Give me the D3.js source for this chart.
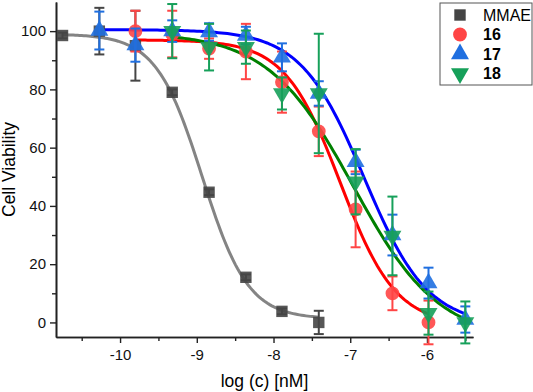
<!DOCTYPE html>
<html>
<head>
<meta charset="utf-8">
<script src="https://cdn.jsdelivr.net/npm/d3@7"></script>
<style>
  body { margin: 0; background: #fff; }
  svg { display: block; font-family: "Liberation Sans", Arial, sans-serif; }
</style>
</head>
<body>
<div id="chart"></div>
<script>
// log concentrations (3-fold dilutions)
const logC = [-10.75, -10.27, -9.8, -9.32, -8.84, -8.36, -7.89, -7.41, -6.93, -6.45, -5.98, -5.5];

const mmaeY = [98.5, 100, 95, 79, 44.7, 15.5, 3.8, 0];
const mmaeErr = [1, 8, 12, 1, 1, 1, 1, 4];

const c16Y = [100, 99, 94, 93, 82.5, 65.6, 38.8, 10, 0];
const c16Err = [7, 8, 3.5, 9.5, 10.5, 8.5, 13, 5.8, 7.5];

const c17Y = [100.2, 95.2, 100, 99.7, 98.5, 91, 78.6, 55.1, 30, 13.5, 1];
const c17Err = [6.5, 5.7, 3.7, 3, 3, 4.8, 4.2, 4.2, 7, 5.3, 4.5];

const c18Y = [100, 94.5, 94.5, 78.6, 78.6, 48.3, 29.7, 3.2, 0];
const c18Err = [9.3, 8, 5.7, 5.5, 20.5, 11.2, 13.5, 7.4, 7.2];

// fitted dose-response parameters: [top, bottom, logIC50, hill]
const fitMMAE = [99, 1.2, -8.93, 1.45];
const fit16 = [97, -1, -7.13, 1.2];
const fit17 = [100.5, -1, -6.82, 1.05];
const fit18 = [99.5, -6, -6.96, 0.78];

const xTicks = [-10, -9, -8, -7, -6];
const yTicks = [0, 20, 40, 60, 80, 100];

let w = 533,
    h = 392,
    margin = ({ top: 2, right: 60, bottom: 55, left: 56 });

const svg = d3.select("#chart")
  .append("svg")
  .attr("width", w)
  .attr("height", h);

let x = d3.scaleLinear()
  .domain([-10.835, -5.4])
  .range([margin.left, w - margin.right]);

let y = d3.scaleLinear()
  .domain([-5, 110])
  .range([h - margin.bottom, margin.top]);

const series = [
  { name: "MMAE", start: 0, ys: mmaeY, err: mmaeErr, fit: fitMMAE, mark: "#454545", line: "#848484", shape: d3.symbolSquare, size: 130, bold: false },
  { name: "16", start: 2, ys: c16Y, err: c16Err, fit: fit16, mark: "#ff4545", line: "#ff0000", shape: d3.symbolCircle, size: 150, bold: true },
  { name: "17", start: 1, ys: c17Y, err: c17Err, fit: fit17, mark: "#1f6fe0", line: "#0000ff", shape: d3.symbolTriangle, size: 140, bold: true },
  { name: "18", start: 3, ys: c18Y, err: c18Err, fit: fit18, mark: "#16a05a", line: "#008000", shape: d3.symbolTriangle, size: 140, bold: true, flip: true }
];

series.forEach(s => {
  s.pts = s.ys.map((v, i) => ({ x: logC[s.start + i], y: v, e: s.err[i] }));
});

function logistic(p, xv) {
  return p[1] + (p[0] - p[1]) / (1 + Math.pow(10, (xv - p[2]) * p[3]));
}

// axes
svg.append("g")
  .attr("transform", `translate(0,${h - margin.bottom})`)
  .call(d3.axisBottom(x).tickValues(xTicks).tickSize(6).tickSizeOuter(0).tickPadding(6).tickFormat(d => String(d)));
svg.append("g")
  .attr("transform", `translate(0,${h - margin.bottom})`)
  .call(d3.axisBottom(x).tickValues([-10.5, -9.5, -8.5, -7.5, -6.5, -5.5]).tickSize(4).tickSizeOuter(0).tickFormat(""));

svg.append("g")
  .attr("transform", `translate(${margin.left},0)`)
  .call(d3.axisLeft(y).tickValues(yTicks).tickSize(6).tickSizeOuter(0).tickPadding(4).tickFormat(d => String(d)));
svg.append("g")
  .attr("transform", `translate(${margin.left},0)`)
  .call(d3.axisLeft(y).tickValues([10, 30, 50, 70, 90]).tickSize(4).tickSizeOuter(0).tickFormat(""));

svg.selectAll(".domain").attr("stroke", "#222").attr("stroke-width", 1.6);
svg.selectAll(".tick line").attr("stroke", "#222").attr("stroke-width", 1.4);
svg.selectAll(".tick text").attr("font-size", 15).attr("fill", "#111")
  .attr("font-family", "Liberation Sans, Arial, sans-serif");

svg.append("text")
  .attr("x", (margin.left + w - margin.right) / 2)
  .attr("y", 387)
  .style("text-anchor", "middle")
  .attr("font-size", 17.5)
  .text("log (c) [nM]");

svg.append("text")
  .attr("transform", `translate(15,${(margin.top + h - margin.bottom) / 2}) rotate(-90)`)
  .style("text-anchor", "middle")
  .attr("font-size", 17.5)
  .text("Cell Viability");

// fitted curves
const line = d3.line().x(d => x(d[0])).y(d => y(d[1]));
series.forEach(s => {
  const x0 = s.pts[0].x, x1 = s.pts[s.pts.length - 1].x;
  const xs = d3.range(0, 121).map(i => x0 + (x1 - x0) * i / 120);
  svg.append("path")
    .datum(xs.map(v => [v, logistic(s.fit, v)]))
    .attr("fill", "none")
    .attr("stroke", s.line)
    .attr("stroke-width", 3)
    .attr("d", line);
});

// error bars and markers
series.forEach(s => {
  const g = svg.append("g");
  g.selectAll("line.bar")
    .data(s.pts)
    .join("line")
    .attr("x1", d => x(d.x)).attr("x2", d => x(d.x))
    .attr("y1", d => y(d.y - d.e)).attr("y2", d => y(d.y + d.e))
    .attr("stroke", s.mark).attr("stroke-width", 2);
  [-1, 1].forEach(k => {
    g.selectAll("line.cap" + k)
      .data(s.pts)
      .join("line")
      .attr("x1", d => x(d.x) - 5).attr("x2", d => x(d.x) + 5)
      .attr("y1", d => y(d.y + k * d.e)).attr("y2", d => y(d.y + k * d.e))
      .attr("stroke", s.mark).attr("stroke-width", 2);
  });
  g.selectAll("path")
    .data(s.pts)
    .join("path")
    .attr("d", d3.symbol(s.shape, s.size))
    .attr("transform", d => `translate(${x(d.x)},${y(d.y)})` + (s.flip ? " rotate(180)" : ""))
    .attr("fill", s.mark)
    .attr("opacity", 0.9);
});

// legend
const legend = svg.append("g").attr("transform", "translate(440,3)");
legend.append("rect")
  .attr("width", 92).attr("height", 82)
  .attr("fill", "#fff").attr("stroke", "#555").attr("stroke-width", 1);
series.forEach((s, i) => {
  const ly = 12 + i * 19.5;
  legend.append("path")
    .attr("d", d3.symbol(s.shape, s.size))
    .attr("transform", `translate(20,${ly})` + (s.flip ? " rotate(180)" : ""))
    .attr("fill", s.mark);
  legend.append("text")
    .attr("x", 43).attr("y", ly + 5.5)
    .attr("font-size", 16)
    .attr("font-weight", s.bold ? "bold" : "normal")
    .text(s.name);
});
</script>
</body>
</html>
